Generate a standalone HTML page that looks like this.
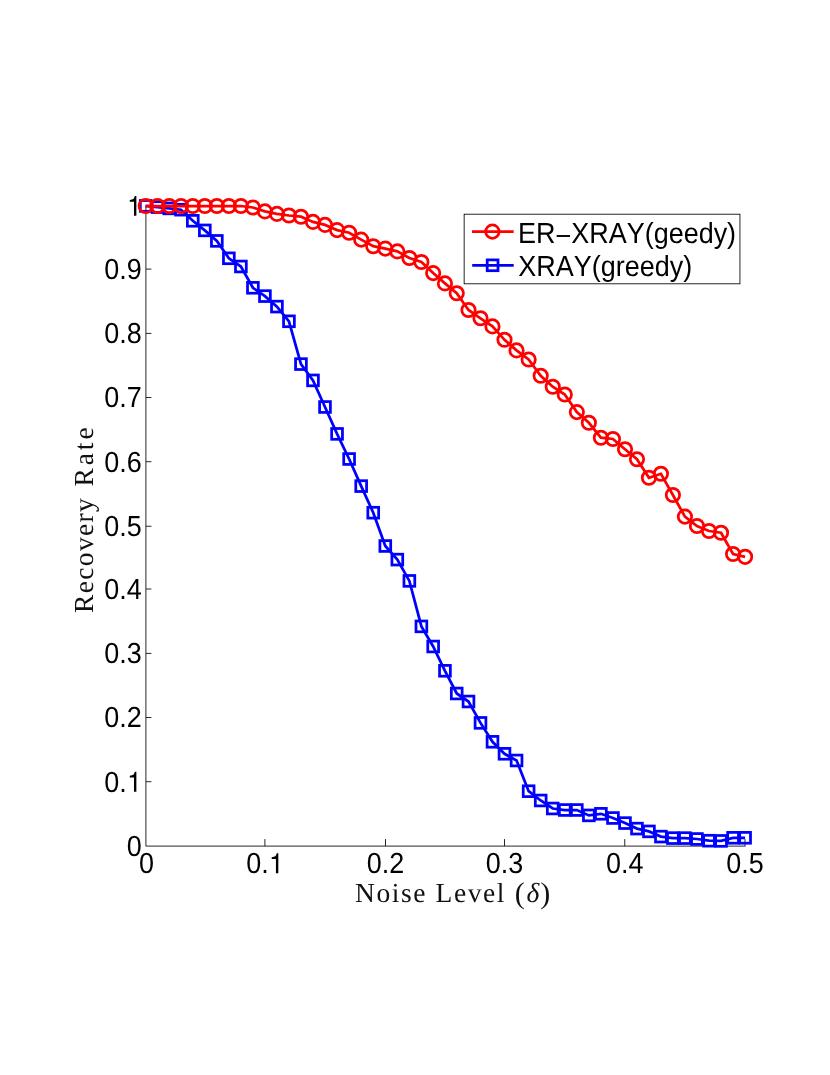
<!DOCTYPE html>
<html><head><meta charset="utf-8"><title>Recovery Rate vs Noise Level</title>
<style>
html,body{margin:0;padding:0;background:#fff;}
body{width:830px;height:1075px;overflow:hidden;}
svg{display:block;will-change:transform;}
text{font-kerning:none;text-rendering:geometricPrecision;}
.t{font-family:"Liberation Sans",sans-serif;font-size:29.0px;fill:#000;}
.s{font-family:"Liberation Serif",serif;fill:#111;}
</style></head><body>
<svg width="830" height="1075" viewBox="0 0 830 1075">
<rect width="830" height="1075" fill="#fff"/>
<g stroke="#000" stroke-width="0.85" fill="none">
<path d="M145.9 205.5 V846.1 H745.45"/>
<path d="M145.9 781.70 h5.5"/>
<path d="M145.9 717.50 h5.5"/>
<path d="M145.9 653.40 h5.5"/>
<path d="M145.9 589.00 h5.5"/>
<path d="M145.9 526.25 h5.5"/>
<path d="M145.9 461.70 h5.5"/>
<path d="M145.9 397.50 h5.5"/>
<path d="M145.9 333.40 h5.5"/>
<path d="M145.9 269.10 h5.5"/>
<path d="M145.9 205.90 h5.5"/>
<path d="M264.90 846.1 v-7"/>
<path d="M385.50 846.1 v-7"/>
<path d="M504.50 846.1 v-7"/>
<path d="M624.75 846.1 v-7"/>
<path d="M745.00 846.1 v-7"/>
</g>
<g class="t">
<text transform="translate(141.70 856.05) scale(0.93 1)" text-anchor="end">0</text>
<text transform="translate(126.70 791.65) scale(0.93 1)" text-anchor="end">0.</text>
<path fill="#000" d="M133.99 791.65 L133.99 777.52 L129.76 777.52 L129.76 775.75 C133.45 775.28 133.96 774.86 134.80 771.81 L136.36 771.81 L136.36 791.65 Z"/>
<text transform="translate(141.70 727.45) scale(0.93 1)" text-anchor="end">0.2</text>
<text transform="translate(141.70 663.35) scale(0.93 1)" text-anchor="end">0.3</text>
<text transform="translate(141.70 598.95) scale(0.93 1)" text-anchor="end">0.4</text>
<text transform="translate(141.70 536.20) scale(0.93 1)" text-anchor="end">0.5</text>
<text transform="translate(141.70 471.65) scale(0.93 1)" text-anchor="end">0.6</text>
<text transform="translate(141.70 407.45) scale(0.93 1)" text-anchor="end">0.7</text>
<text transform="translate(141.70 343.35) scale(0.93 1)" text-anchor="end">0.8</text>
<text transform="translate(141.70 279.05) scale(0.93 1)" text-anchor="end">0.9</text>
<path fill="#000" d="M133.99 215.85 L133.99 201.72 L129.76 201.72 L129.76 199.95 C133.45 199.48 133.96 199.06 134.80 196.01 L136.36 196.01 L136.36 215.85 Z"/>
<text transform="translate(146.50 873.20) scale(0.93 1)" text-anchor="middle">0</text>
<text transform="translate(246.16 873.20) scale(0.93 1)" text-anchor="start">0.</text>
<path fill="#000" d="M275.93 873.20 L275.93 859.07 L271.70 859.07 L271.70 857.30 C275.39 856.83 275.91 856.41 276.74 853.36 L278.31 853.36 L278.31 873.20 Z"/>
<text transform="translate(385.50 873.20) scale(0.93 1)" text-anchor="middle">0.2</text>
<text transform="translate(504.50 873.20) scale(0.93 1)" text-anchor="middle">0.3</text>
<text transform="translate(624.75 873.20) scale(0.93 1)" text-anchor="middle">0.4</text>
<text transform="translate(745.00 873.20) scale(0.93 1)" text-anchor="middle">0.5</text>
</g>
<text class="s" y="902.3" font-size="27.5"><tspan x="355.0" letter-spacing="1.6">Noise</tspan><tspan x="435.5" letter-spacing="1.6">Level</tspan><tspan x="514.8" dy="1.1" font-size="30.1">(</tspan><tspan x="526.6" dy="-1.1" font-style="italic">δ</tspan><tspan x="540.2" dy="1.1" font-size="30.1">)</tspan></text>
<text class="s" transform="translate(92.9 613) rotate(-90)" font-size="27.5"><tspan x="0" letter-spacing="1.35">Recovery</tspan><tspan x="126.5" letter-spacing="2.9">Rate</tspan></text>
<g stroke="#0000ff" stroke-width="2.75" fill="none">
<polyline points="145.70,205.90 157.47,207.10 169.25,208.40 181.03,209.70 192.80,220.80 204.83,230.40 216.85,240.90 228.88,258.30 240.90,266.50 252.91,287.80 264.93,296.10 276.94,306.60 288.96,321.30 300.97,364.10 312.99,380.40 325.00,407.00 337.06,433.90 349.12,459.00 361.18,486.10 373.24,512.70 385.30,546.00 397.33,559.60 409.37,580.90 421.40,626.40 433.17,646.50 444.95,670.80 456.73,693.50 468.50,701.50 480.50,722.90 492.50,741.80 504.50,753.80 516.57,760.50 528.63,791.20 540.70,800.50 552.74,808.50 564.79,810.00 576.83,810.00 588.87,815.40 600.91,813.80 612.96,818.00 625.00,823.10 636.98,828.60 648.95,831.40 660.92,836.60 672.90,838.10 684.93,838.10 696.97,839.00 709.00,840.70 721.03,840.90 733.07,837.80 745.10,837.80"/>
<rect x="140.30" y="200.50" width="10.8" height="10.8"/><rect x="152.07" y="201.70" width="10.8" height="10.8"/><rect x="163.85" y="203.00" width="10.8" height="10.8"/><rect x="175.62" y="204.30" width="10.8" height="10.8"/><rect x="187.40" y="215.40" width="10.8" height="10.8"/><rect x="199.43" y="225.00" width="10.8" height="10.8"/><rect x="211.45" y="235.50" width="10.8" height="10.8"/><rect x="223.47" y="252.90" width="10.8" height="10.8"/><rect x="235.50" y="261.10" width="10.8" height="10.8"/><rect x="247.51" y="282.40" width="10.8" height="10.8"/><rect x="259.53" y="290.70" width="10.8" height="10.8"/><rect x="271.54" y="301.20" width="10.8" height="10.8"/><rect x="283.56" y="315.90" width="10.8" height="10.8"/><rect x="295.57" y="358.70" width="10.8" height="10.8"/><rect x="307.59" y="375.00" width="10.8" height="10.8"/><rect x="319.60" y="401.60" width="10.8" height="10.8"/><rect x="331.66" y="428.50" width="10.8" height="10.8"/><rect x="343.72" y="453.60" width="10.8" height="10.8"/><rect x="355.78" y="480.70" width="10.8" height="10.8"/><rect x="367.84" y="507.30" width="10.8" height="10.8"/><rect x="379.90" y="540.60" width="10.8" height="10.8"/><rect x="391.93" y="554.20" width="10.8" height="10.8"/><rect x="403.97" y="575.50" width="10.8" height="10.8"/><rect x="416.00" y="621.00" width="10.8" height="10.8"/><rect x="427.77" y="641.10" width="10.8" height="10.8"/><rect x="439.55" y="665.40" width="10.8" height="10.8"/><rect x="451.33" y="688.10" width="10.8" height="10.8"/><rect x="463.10" y="696.10" width="10.8" height="10.8"/><rect x="475.10" y="717.50" width="10.8" height="10.8"/><rect x="487.10" y="736.40" width="10.8" height="10.8"/><rect x="499.10" y="748.40" width="10.8" height="10.8"/><rect x="511.17" y="755.10" width="10.8" height="10.8"/><rect x="523.23" y="785.80" width="10.8" height="10.8"/><rect x="535.30" y="795.10" width="10.8" height="10.8"/><rect x="547.34" y="803.10" width="10.8" height="10.8"/><rect x="559.39" y="804.60" width="10.8" height="10.8"/><rect x="571.43" y="804.60" width="10.8" height="10.8"/><rect x="583.47" y="810.00" width="10.8" height="10.8"/><rect x="595.51" y="808.40" width="10.8" height="10.8"/><rect x="607.56" y="812.60" width="10.8" height="10.8"/><rect x="619.60" y="817.70" width="10.8" height="10.8"/><rect x="631.58" y="823.20" width="10.8" height="10.8"/><rect x="643.55" y="826.00" width="10.8" height="10.8"/><rect x="655.52" y="831.20" width="10.8" height="10.8"/><rect x="667.50" y="832.70" width="10.8" height="10.8"/><rect x="679.53" y="832.70" width="10.8" height="10.8"/><rect x="691.57" y="833.60" width="10.8" height="10.8"/><rect x="703.60" y="835.30" width="10.8" height="10.8"/><rect x="715.63" y="835.50" width="10.8" height="10.8"/><rect x="727.67" y="832.40" width="10.8" height="10.8"/><rect x="739.70" y="832.40" width="10.8" height="10.8"/>
</g>
<g stroke="#ff0000" stroke-width="2.75" fill="none">
<polyline points="145.70,206.00 157.47,206.00 169.25,206.00 181.03,206.00 192.80,206.00 204.83,206.00 216.85,206.00 228.88,206.00 240.90,206.00 252.91,207.50 264.93,211.40 276.94,213.90 288.96,215.50 300.97,216.70 312.99,221.90 325.00,224.90 337.06,230.10 349.12,232.70 361.18,239.60 373.24,246.20 385.30,248.60 397.33,251.40 409.37,258.00 421.40,262.00 433.17,273.10 444.95,283.40 456.73,293.30 468.50,310.00 480.50,318.30 492.50,326.40 504.50,339.80 516.57,350.40 528.63,359.50 540.70,375.80 552.74,386.70 564.79,394.50 576.83,412.10 588.87,422.80 600.91,437.70 612.96,439.00 625.00,449.30 636.98,459.20 648.95,477.80 660.92,473.80 672.90,495.00 684.93,516.60 696.97,526.00 709.00,531.00 721.03,532.70 733.07,554.00 745.10,556.80"/>
<circle cx="145.70" cy="206.00" r="6.7"/><circle cx="157.47" cy="206.00" r="6.7"/><circle cx="169.25" cy="206.00" r="6.7"/><circle cx="181.03" cy="206.00" r="6.7"/><circle cx="192.80" cy="206.00" r="6.7"/><circle cx="204.83" cy="206.00" r="6.7"/><circle cx="216.85" cy="206.00" r="6.7"/><circle cx="228.88" cy="206.00" r="6.7"/><circle cx="240.90" cy="206.00" r="6.7"/><circle cx="252.91" cy="207.50" r="6.7"/><circle cx="264.93" cy="211.40" r="6.7"/><circle cx="276.94" cy="213.90" r="6.7"/><circle cx="288.96" cy="215.50" r="6.7"/><circle cx="300.97" cy="216.70" r="6.7"/><circle cx="312.99" cy="221.90" r="6.7"/><circle cx="325.00" cy="224.90" r="6.7"/><circle cx="337.06" cy="230.10" r="6.7"/><circle cx="349.12" cy="232.70" r="6.7"/><circle cx="361.18" cy="239.60" r="6.7"/><circle cx="373.24" cy="246.20" r="6.7"/><circle cx="385.30" cy="248.60" r="6.7"/><circle cx="397.33" cy="251.40" r="6.7"/><circle cx="409.37" cy="258.00" r="6.7"/><circle cx="421.40" cy="262.00" r="6.7"/><circle cx="433.17" cy="273.10" r="6.7"/><circle cx="444.95" cy="283.40" r="6.7"/><circle cx="456.73" cy="293.30" r="6.7"/><circle cx="468.50" cy="310.00" r="6.7"/><circle cx="480.50" cy="318.30" r="6.7"/><circle cx="492.50" cy="326.40" r="6.7"/><circle cx="504.50" cy="339.80" r="6.7"/><circle cx="516.57" cy="350.40" r="6.7"/><circle cx="528.63" cy="359.50" r="6.7"/><circle cx="540.70" cy="375.80" r="6.7"/><circle cx="552.74" cy="386.70" r="6.7"/><circle cx="564.79" cy="394.50" r="6.7"/><circle cx="576.83" cy="412.10" r="6.7"/><circle cx="588.87" cy="422.80" r="6.7"/><circle cx="600.91" cy="437.70" r="6.7"/><circle cx="612.96" cy="439.00" r="6.7"/><circle cx="625.00" cy="449.30" r="6.7"/><circle cx="636.98" cy="459.20" r="6.7"/><circle cx="648.95" cy="477.80" r="6.7"/><circle cx="660.92" cy="473.80" r="6.7"/><circle cx="672.90" cy="495.00" r="6.7"/><circle cx="684.93" cy="516.60" r="6.7"/><circle cx="696.97" cy="526.00" r="6.7"/><circle cx="709.00" cy="531.00" r="6.7"/><circle cx="721.03" cy="532.70" r="6.7"/><circle cx="733.07" cy="554.00" r="6.7"/><circle cx="745.10" cy="556.80" r="6.7"/>
</g>
<rect x="464.15" y="214.2" width="275.8" height="69.6" fill="#fff" stroke="#000" stroke-width="0.85"/>
<g stroke="#ff0000" stroke-width="2.75" fill="none"><path d="M472.0 231.6 H513.7"/><circle cx="492.4" cy="231.6" r="6.7"/></g>
<g stroke="#0000ff" stroke-width="2.75" fill="none"><path d="M472.2 265.3 H513.7"/><rect x="487.20" y="259.90" width="10.8" height="10.8"/></g>
<g class="t">
<text transform="translate(518.00 242.80) scale(0.93 1)" text-anchor="start">ER</text>
<path d="M556.67 236.0 h13.32" stroke="#000" stroke-width="1.9" fill="none"/>
<text transform="translate(571.21 242.80) scale(0.93 1)" text-anchor="start">XRAY(geedy)</text>
<text transform="translate(518.30 276.00) scale(0.93 1)" text-anchor="start">XRAY(greedy)</text>
</g>
</svg>
</body></html>
